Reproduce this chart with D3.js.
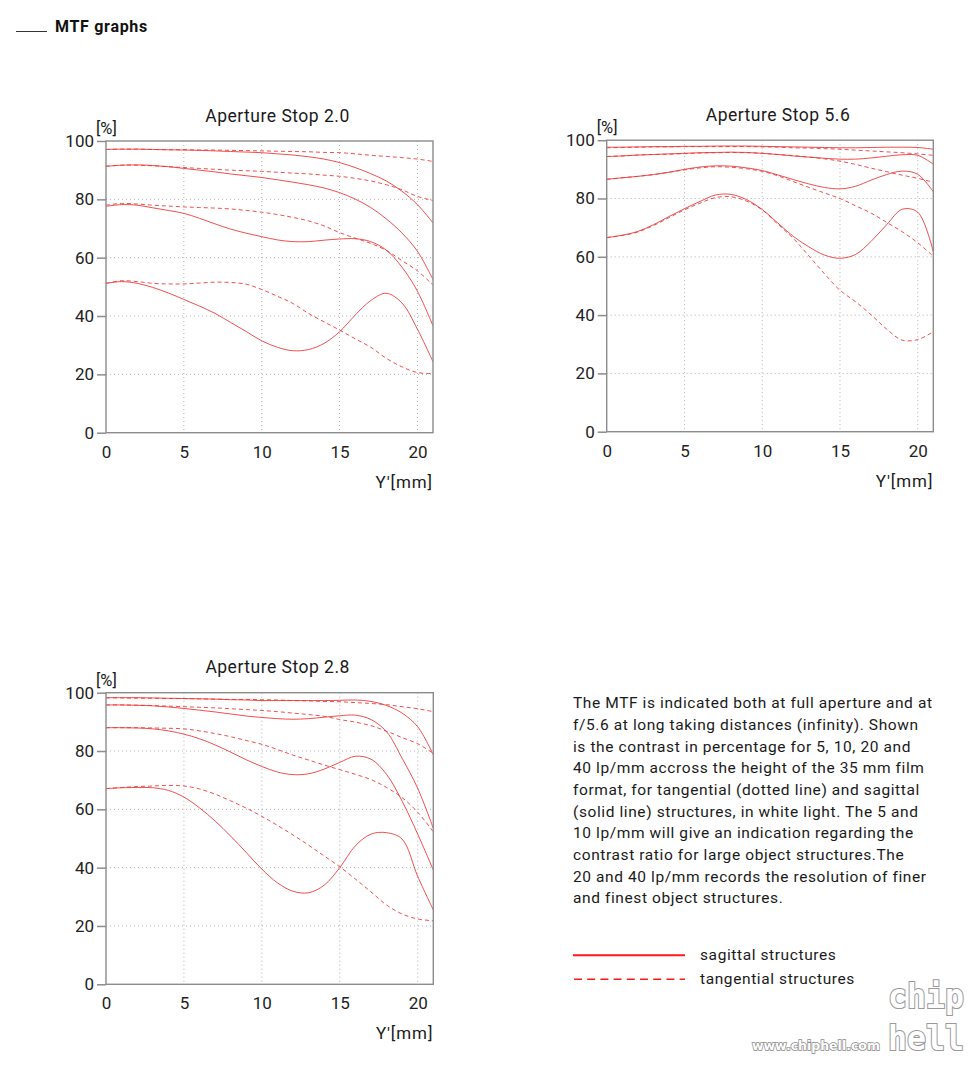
<!DOCTYPE html>
<html><head><meta charset="utf-8">
<script src="https://cdn.jsdelivr.net/npm/d3@7"></script>
<style>body{margin:0;background:#fff} svg{display:block}</style>
</head><body><svg id="c" width="980" height="1080"></svg>
<script>
// ---------- DATA ----------
const xPositions = [0,1,2,3,4,5,6,7,8,9,10,11,12,13,14,15,16,17,18,19,20,21];
const xTicks = [0,5,10,15,20];
const yTicks = [0,20,40,60,80,100];
const chartTitles = ["Aperture Stop 2.0","Aperture Stop 5.6","Aperture Stop 2.8"];

// Aperture 2.0 (s = sagittal/solid, t = tangential/dashed), per lp/mm
const ap20_s5  = [97.1,97.2,97.2,97.1,97.0,96.9,96.8,96.6,96.4,96.2,96.0,95.6,95.2,94.6,93.8,92.6,90.9,88.8,86.3,82.8,78.2,71.9];
const ap20_t5  = [97.1,97.2,97.2,97.1,97.0,97.0,96.9,96.9,96.8,96.7,96.6,96.5,96.4,96.3,96.1,96.0,95.6,95.1,94.7,94.3,93.8,93.0];
const ap20_s10 = [91.3,91.7,91.8,91.6,91.2,90.6,90.0,89.4,88.7,88.1,87.5,86.7,85.9,85.0,83.9,82.3,80.1,77.2,73.3,68.5,62.2,52.5];
const ap20_t10 = [91.4,91.7,91.7,91.5,91.2,90.9,90.6,90.3,90.0,89.8,89.6,89.3,89.0,88.7,88.3,87.9,87.2,86.3,85.0,83.3,81.0,79.6];
const ap20_s20 = [77.6,78.2,78.0,77.1,76.2,75.2,73.5,71.6,69.8,68.4,67.2,66.1,65.5,65.5,66.0,66.4,66.5,65.5,62.6,56.8,48.5,36.6];
const ap20_t20 = [78.0,78.6,78.4,78.0,77.7,77.4,77.2,77.0,76.7,76.2,75.6,74.8,73.8,72.6,70.9,68.6,66.7,64.9,62.5,59.0,55.5,50.6];
const ap20_s40 = [51.2,51.8,51.2,49.8,47.9,45.7,43.4,40.9,37.8,34.7,31.5,29.3,28.1,28.5,30.6,34.6,40.3,45.3,47.8,44.5,35.5,24.3];
const ap20_t40 = [51.2,52.1,51.8,51.2,51.0,51.0,51.3,51.6,51.5,50.9,49.1,46.8,44.3,40.9,38.0,35.2,32.2,29.3,25.5,22.6,20.6,20.3];

// Aperture 5.6
const ap56_s5  = [97.6,97.6,97.7,97.8,97.8,97.9,97.9,98.0,98.0,98.0,97.9,97.8,97.7,97.6,97.5,97.4,97.4,97.5,97.6,97.6,97.5,96.9];
const ap56_t5  = [97.4,97.5,97.6,97.7,97.7,97.8,97.8,97.8,97.8,97.8,97.7,97.6,97.4,97.3,97.1,96.9,96.6,96.3,96.0,95.7,95.3,94.8];
const ap56_s10 = [94.4,94.6,94.9,95.1,95.3,95.5,95.7,95.8,95.9,95.8,95.5,95.1,94.6,94.2,93.8,93.5,93.5,93.9,94.5,95.0,94.8,91.8];
const ap56_t10 = [94.4,94.6,94.9,95.1,95.2,95.4,95.6,95.7,95.8,95.7,95.5,95.1,94.7,94.2,93.6,92.8,91.7,90.4,89.2,88.0,86.9,85.6];
const ap56_s20 = [86.6,87.1,87.6,88.2,89.0,90.0,90.8,91.2,91.1,90.5,89.6,88.1,86.5,85.0,83.8,83.3,84.2,86.3,88.2,89.4,88.3,82.3];
const ap56_t20 = [86.6,87.1,87.6,88.2,89.0,89.8,90.5,90.9,90.7,90.2,89.3,87.8,85.8,83.8,81.9,80.0,77.5,75.0,71.8,68.6,64.8,60.2];
const ap56_s40 = [66.6,67.4,68.7,71.0,73.8,76.5,79.0,81.2,81.4,79.6,76.2,71.6,67.0,63.4,60.6,59.5,60.8,65.3,71.0,76.3,75.3,61.7];
const ap56_t40 = [66.6,67.3,68.5,70.7,73.4,76.1,78.4,80.3,80.6,79.1,76.1,71.2,66.3,60.3,54.2,48.5,44.6,40.1,35.2,31.4,31.6,34.3];

// Aperture 2.8
const ap28_s5  = [98.3,98.3,98.3,98.2,98.1,98.0,97.9,97.8,97.6,97.5,97.3,97.3,97.3,97.3,97.3,97.4,97.5,97.0,95.6,93.0,88.3,78.7];
const ap28_t5  = [98.2,98.2,98.1,98.1,98.0,98.0,97.9,97.8,97.7,97.7,97.6,97.5,97.3,97.2,97.0,96.9,96.6,96.3,95.9,95.2,94.5,93.5];
const ap28_s10 = [95.8,95.8,95.7,95.5,95.1,94.6,94.0,93.4,92.7,92.0,91.5,91.1,90.9,91.1,91.6,92.1,92.3,90.8,86.6,77.5,67.2,53.5];
const ap28_t10 = [95.8,95.8,95.7,95.6,95.4,95.2,95.0,94.8,94.5,94.2,93.9,93.5,93.0,92.5,91.9,90.8,89.9,88.7,86.8,84.6,82.5,79.2];
const ap28_s20 = [88.0,88.0,87.9,87.6,86.9,85.8,84.2,82.1,79.6,77.0,74.7,72.8,71.9,72.2,73.8,76.1,78.2,77.2,72.0,62.8,51.5,39.2];
const ap28_t20 = [88.0,88.0,88.0,87.9,87.8,87.6,86.9,86.0,84.9,83.6,82.3,80.5,78.6,76.9,75.2,73.6,72.0,70.2,67.5,64.0,59.0,52.3];
const ap28_s40 = [67.1,67.4,67.5,67.4,66.5,64.2,60.5,56.0,50.8,45.2,39.5,34.8,31.9,31.4,34.0,40.0,47.5,51.5,52.0,49.8,37.0,25.5];
const ap28_t40 = [67.1,67.5,67.8,68.0,68.2,68.0,67.0,65.2,62.9,60.4,57.6,54.5,51.2,47.7,44.0,40.3,36.1,31.7,27.2,24.1,22.4,21.8];

const descriptionLines = [
  "The MTF is indicated both at full aperture and at",
  "f/5.6 at long taking distances (infinity). Shown",
  "is the contrast in percentage for 5, 10, 20 and",
  "40 lp/mm accross the height of the 35 mm film",
  "format, for tangential (dotted line) and sagittal",
  "(solid line) structures, in white light. The 5 and",
  "10 lp/mm will give an indication regarding the",
  "contrast ratio for large object structures.The",
  "20 and 40 lp/mm records the resolution of finer",
  "and finest object structures."
];
const legendLabels = ["sagittal structures","tangential structures"];
const headerTitle = "MTF graphs";

// ---------- BUILD ----------
const charts = [
  {title: chartTitles[0], solid:[ap20_s5,ap20_s10,ap20_s20,ap20_s40], dashed:[ap20_t5,ap20_t10,ap20_t20,ap20_t40]},
  {title: chartTitles[1], solid:[ap56_s5,ap56_s10,ap56_s20,ap56_s40], dashed:[ap56_t5,ap56_t10,ap56_t20,ap56_t40]},
  {title: chartTitles[2], solid:[ap28_s5,ap28_s10,ap28_s20,ap28_s40], dashed:[ap28_t5,ap28_t10,ap28_t20,ap28_t40]}
];
const layouts = [
  {left:106, top:141, w:327, h:291.7},
  {left:606.7, top:140.2, w:326.6, h:291.5},
  {left:106, top:692.7, w:327.3, h:291.6}
];

const FONT = "Roboto, 'Liberation Sans', sans-serif";
const RED = "#ee3030";
const svg = d3.select("#c");

// header
svg.append("line").attr("x1",16).attr("x2",47).attr("y1",31.5).attr("y2",31.5)
  .attr("stroke","#333").attr("stroke-width",1);
svg.append("text").attr("x",55).attr("y",32).text(headerTitle)
  .attr("font-family",FONT).attr("font-weight","bold").attr("font-size",16)
  .attr("letter-spacing",0.7).attr("fill","#111");

charts.forEach((c,i)=>{
  const L = layouts[i];
  const x = d3.scaleLinear().domain([0,21]).range([0,L.w]);
  const y = d3.scaleLinear().domain([0,100]).range([L.h,0]);
  const g = svg.append("g").attr("transform",`translate(${L.left},${L.top})`);

  // grid
  g.selectAll(".vg").data(xTicks.filter(d=>d>0)).join("line")
    .attr("x1",d=>x(d)).attr("x2",d=>x(d)).attr("y1",0).attr("y2",L.h)
    .attr("stroke","#b0b0b0").attr("stroke-width",1).attr("stroke-dasharray","1,3");
  g.selectAll(".hg").data(yTicks.filter(d=>d>0&&d<100)).join("line")
    .attr("y1",d=>y(d)).attr("y2",d=>y(d)).attr("x1",0).attr("x2",L.w)
    .attr("stroke","#b0b0b0").attr("stroke-width",1).attr("stroke-dasharray","1,3");

  // axes
  const ya = g.append("g").call(d3.axisLeft(y).tickValues(yTicks).tickSize(9).tickPadding(3));
  ya.select(".domain").remove();
  ya.selectAll(".tick line").attr("stroke","#8c8c8c").attr("stroke-width",1.5);
  ya.selectAll(".tick text").attr("font-family",FONT).attr("font-size",17).attr("fill","#222");

  const xa = g.append("g").attr("transform",`translate(0,${L.h})`)
    .call(d3.axisBottom(x).tickValues(xTicks).tickSize(0).tickPadding(13));
  xa.select(".domain").remove();
  xa.selectAll(".tick text").attr("font-family",FONT).attr("font-size",17).attr("fill","#222");

  // clip
  const cid = "clip"+i;
  g.append("clipPath").attr("id",cid).append("rect").attr("width",L.w).attr("height",L.h);

  const line = d3.line().x((d,k)=>x(xPositions[k])).y(d=>y(d)).curve(d3.curveCatmullRom.alpha(0.5));
  const cg = g.append("g").attr("clip-path",`url(#${cid})`);
  c.dashed.forEach(s=>{
    cg.append("path").attr("d",line(s)).attr("fill","none").attr("stroke",RED)
      .attr("stroke-width",1).attr("stroke-dasharray","4,3").attr("opacity",0.85);
  });
  c.solid.forEach(s=>{
    cg.append("path").attr("d",line(s)).attr("fill","none").attr("stroke",RED)
      .attr("stroke-width",1).attr("opacity",0.85);
  });

  // frame
  g.append("rect").attr("width",L.w).attr("height",L.h).attr("fill","none")
    .attr("stroke","#8c8c8c").attr("stroke-width",1.4);

  // labels
  g.append("text").attr("x",L.w/2+8).attr("y",-19.5).attr("text-anchor","middle")
    .attr("font-family",FONT).attr("font-size",17.5).attr("letter-spacing",0.5)
    .attr("fill","#1a1a1a").text(c.title);
  g.append("text").attr("x",-10).attr("y",-7).attr("font-family",FONT).attr("font-size",16.5)
    .attr("fill","#1a1a1a").text("[%]");
  g.append("text").attr("x",L.w).attr("y",L.h+55).attr("text-anchor","end")
    .attr("font-family",FONT).attr("font-size",17).attr("letter-spacing",0.9)
    .attr("fill","#1a1a1a").text("Y'[mm]");
});

// description
svg.append("g").selectAll("text").data(descriptionLines).join("text")
  .attr("x",573).attr("y",(d,i)=>708.3+i*21.65)
  .attr("font-family",FONT).attr("font-size",15.5).attr("letter-spacing",0.6)
  .attr("fill","#1a1a1a").text(d=>d);

// legend
svg.append("line").attr("x1",573).attr("x2",685).attr("y1",955.3).attr("y2",955.3)
  .attr("stroke","#ff1a1a").attr("stroke-width",2);
svg.append("line").attr("x1",574).attr("x2",685).attr("y1",979.3).attr("y2",979.3)
  .attr("stroke","#ff1a1a").attr("stroke-width",1.5).attr("stroke-dasharray","8,5.2");
svg.append("g").selectAll("text").data(legendLabels).join("text")
  .attr("x",700).attr("y",(d,i)=>959.5+i*24)
  .attr("font-family",FONT).attr("font-size",15.5).attr("letter-spacing",0.6)
  .attr("fill","#1a1a1a").text(d=>d);

// watermark
const wm = svg.append("g");
wm.append("text").attr("x",752).attr("y",1050).text("www.chiphell.com")
  .attr("font-family","'DejaVu Sans', sans-serif").attr("font-weight","bold").attr("font-size",13)
  .attr("textLength",128).attr("lengthAdjust","spacingAndGlyphs")
  .attr("fill","#fff").attr("stroke","#8a8a8a").attr("stroke-width",1.5).attr("paint-order","stroke");
wm.append("text").attr("x",888).attr("y",1008).text("chip")
  .attr("font-family","'DejaVu Sans Mono', monospace").attr("font-weight","bold").attr("font-size",34)
  .attr("textLength",76).attr("lengthAdjust","spacingAndGlyphs")
  .attr("fill","#fff").attr("stroke","#9a9a9a").attr("stroke-width",2.2).attr("paint-order","stroke");
wm.append("text").attr("x",888).attr("y",1050).text("hell")
  .attr("font-family","'DejaVu Sans Mono', monospace").attr("font-weight","bold").attr("font-size",34)
  .attr("textLength",76).attr("lengthAdjust","spacingAndGlyphs")
  .attr("fill","#fff").attr("stroke","#9a9a9a").attr("stroke-width",2.2).attr("paint-order","stroke");
</script>
</body></html>
